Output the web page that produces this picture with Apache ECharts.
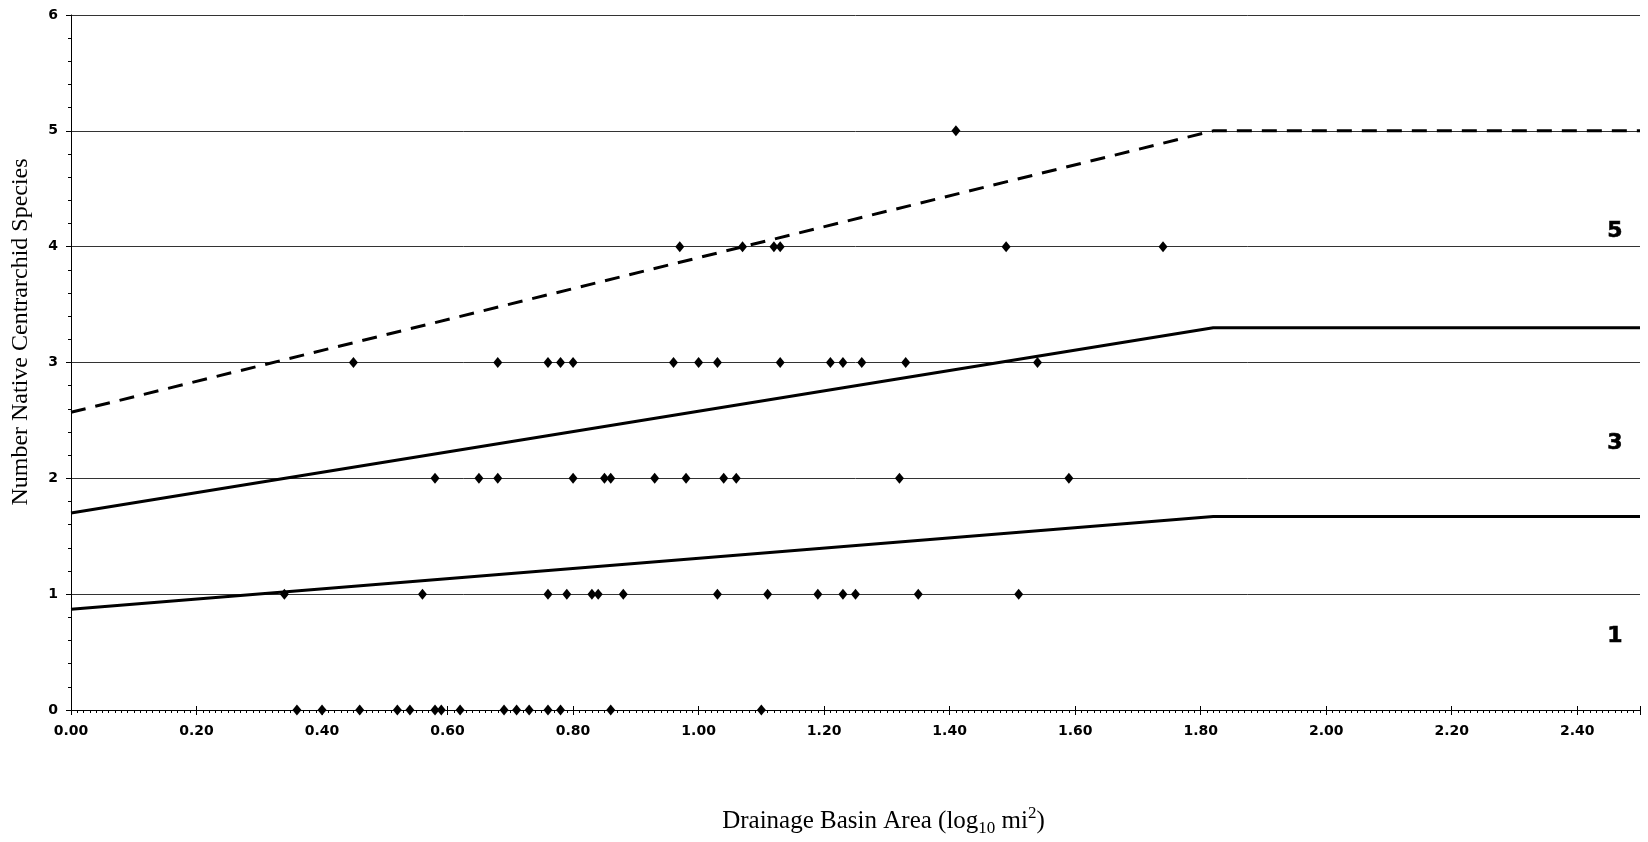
<!DOCTYPE html>
<html lang="en">
<head>
    <meta charset="UTF-8" />
    <title>Centrarchid species vs drainage area</title>
    <script src="https://cdn.jsdelivr.net/npm/echarts@6/dist/echarts.min.js"></script>
    <style>
        html, body { margin: 0; background: #fff; }
        #main { width: 1648px; height: 842px; }
    </style>
</head>
<body>
    <div id="main"></div>
    <script>
        // log10 drainage area of each site, grouped by number of native centrarchid species
        var species0 = [0.36, 0.40, 0.46, 0.52, 0.54, 0.58, 0.59, 0.62, 0.69, 0.71, 0.73, 0.76, 0.78, 0.86, 1.10];
        var species1 = [0.34, 0.56, 0.76, 0.79, 0.83, 0.84, 0.88, 1.03, 1.11, 1.19, 1.23, 1.25, 1.35, 1.51];
        var species2 = [0.58, 0.65, 0.68, 0.80, 0.85, 0.86, 0.93, 0.98, 1.04, 1.06, 1.32, 1.59];
        var species3 = [0.45, 0.68, 0.76, 0.78, 0.80, 0.96, 1.00, 1.03, 1.13, 1.21, 1.23, 1.26, 1.33, 1.54];
        var species4 = [0.97, 1.07, 1.12, 1.13, 1.49, 1.74];
        var species5 = [1.41];

        // boundary lines [area, species]
        var lineLow = [[0, 0.87], [1.82, 1.67], [2.5, 1.67]];
        var lineMid = [[0, 1.70], [1.82, 3.30], [2.5, 3.30]];
        var lineHigh = [[0, 2.57], [1.82, 5.00], [2.5, 5.00]];

        // zone labels [area, species, text]
        var zoneLabels = [[2.46, 4.13, "5"], [2.46, 2.30, "3"], [2.46, 0.64, "1"]];

        var points = [];
        [species0, species1, species2, species3, species4, species5].forEach(function (xs, n) {
            xs.forEach(function (x) { points.push([x, n]); });
        });

        var labelFont = { color: "#000", fontFamily: "DejaVu Sans", fontWeight: "bold", fontSize: 14 };
        var serif = "Liberation Serif";

        var chart = echarts.init(document.getElementById("main"));

        var option = {
            backgroundColor: "#fff",
            animation: false,
            grid: { left: 71, right: 8, top: 15, bottom: 118, containLabel: false },
            xAxis: [
                {
                    type: "value",
                    min: 0,
                    max: 2.5,
                    interval: 0.2,
                    axisLine: { lineStyle: { color: "#000", width: 1 } },
                    axisTick: { length: 5, lineStyle: { color: "#000" } },
                    minorTick: { show: true, splitNumber: 20, length: 3, lineStyle: { color: "#000" } },
                    splitLine: { show: false },
                    axisLabel: Object.assign({ margin: 14, showMaxLabel: false,
                        formatter: function (v) { return v.toFixed(2); } }, labelFont),
                    name: "{a|Drainage Basin Area (log}{s|10}{a| mi}{p|2}{a|)}",
                    nameLocation: "middle",
                    nameGap: 95,
                    nameTextStyle: {
                        padding: [0, 0, 0, 56],
                        rich: {
                            a: { fontFamily: serif, fontSize: 25, color: "#000", lineHeight: 32, verticalAlign: "middle" },
                            s: { fontFamily: serif, fontSize: 17, color: "#000", lineHeight: 16, verticalAlign: "bottom" },
                            p: { fontFamily: serif, fontSize: 17, color: "#000", lineHeight: 16, verticalAlign: "top" }
                        }
                    }
                },
                {
                    // upper half of the crossing major ticks
                    type: "value",
                    min: 0,
                    max: 2.5,
                    interval: 0.2,
                    position: "bottom",
                    axisLine: { show: false },
                    axisTick: { inside: true, length: 4, lineStyle: { color: "#000" } },
                    axisLabel: { show: false },
                    splitLine: { show: false }
                }
            ],
            yAxis: {
                type: "value",
                min: 0,
                max: 6,
                interval: 1,
                axisLine: { show: true, lineStyle: { color: "#000", width: 1 } },
                axisTick: { show: true, length: 5, lineStyle: { color: "#000" } },
                minorTick: { show: true, splitNumber: 5, length: 3, lineStyle: { color: "#000" } },
                splitLine: { show: true, lineStyle: { color: "#333", width: 1 } },
                axisLabel: Object.assign({ margin: 13 }, labelFont)
            },
            graphic: [
                {
                    type: "text",
                    x: 21,
                    y: 332,
                    rotation: Math.PI / 2,
                    style: {
                        text: "Number Native Centrarchid Species",
                        font: "24px 'Liberation Serif'",
                        fill: "#000",
                        align: "center",
                        verticalAlign: "middle",
                        textAlign: "center",
                        textVerticalAlign: "middle"
                    }
                }
            ],
            series: [
                {
                    type: "line",
                    data: lineLow,
                    symbol: "none",
                    lineStyle: { color: "#000", width: 3 },
                    z: 3
                },
                {
                    type: "line",
                    data: lineMid,
                    symbol: "none",
                    lineStyle: { color: "#000", width: 3 },
                    z: 3
                },
                {
                    type: "line",
                    data: lineHigh,
                    symbol: "none",
                    lineStyle: { color: "#000", width: 3, type: [15, 10] },
                    z: 3
                },
                {
                    type: "scatter",
                    data: points,
                    symbol: "diamond",
                    symbolSize: [9, 11],
                    itemStyle: { color: "#000", opacity: 1 },
                    z: 4
                },
                {
                    type: "scatter",
                    data: zoneLabels,
                    symbolSize: 0,
                    itemStyle: { color: "#fff", opacity: 1 },
                    label: {
                        show: true,
                        position: "inside",
                        formatter: function (p) { return p.data[2]; },
                        color: "#000",
                        textBorderColor: "#000",
                        textBorderWidth: 0.6,
                        fontFamily: "DejaVu Sans",
                        fontWeight: "bold",
                        fontSize: 22
                    },
                    silent: true
                }
            ]
        };

        chart.setOption(option);
    </script>
</body>
</html>
